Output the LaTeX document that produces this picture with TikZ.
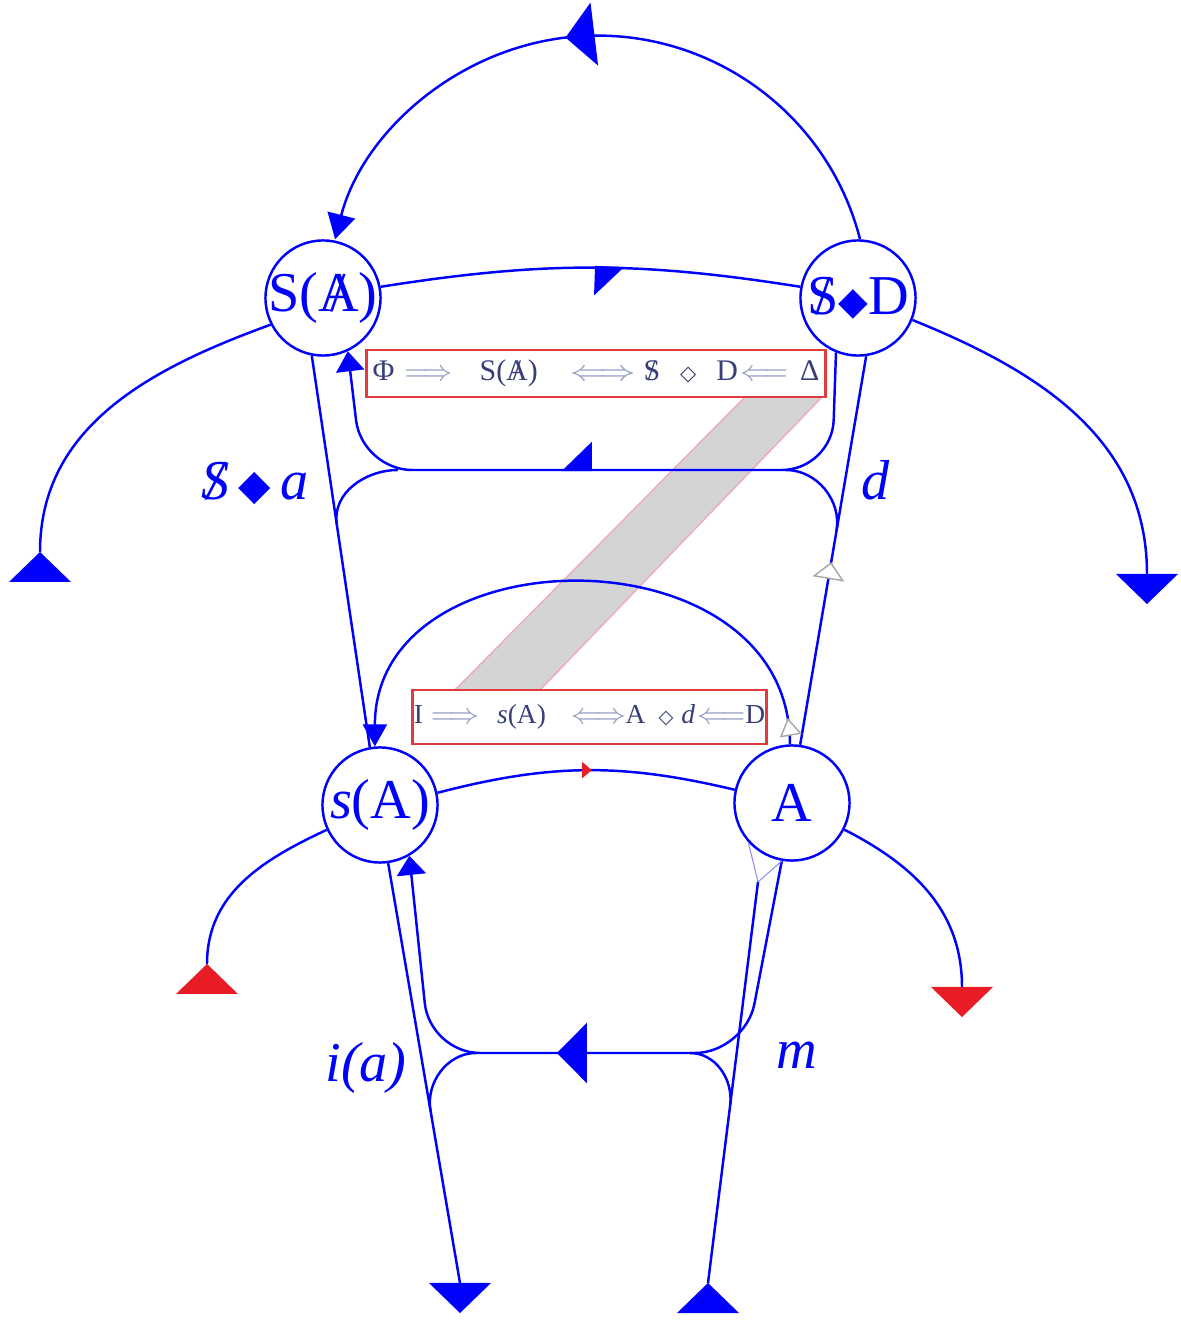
\documentclass[tikz,border=0pt]{standalone}
\usepackage{fontspec}
\setmainfont{Liberation Serif}
\newfontfamily\symfont{DejaVu Sans}
\usetikzlibrary{arrows.meta, calc, decorations.markings}
\definecolor{wireblue}{RGB}{0,0,255}
\definecolor{tipred}{RGB}{232,28,36}
\definecolor{boxred}{RGB}{222,60,64}
\definecolor{boxtext}{RGB}{56,62,120}
\definecolor{boxarr}{RGB}{150,158,198}
\definecolor{bandgray}{RGB}{212,212,212}
\definecolor{bandedge}{RGB}{240,170,180}
\tikzset{
  obj/.style={circle, draw=wireblue, line width=0.7pt, minimum size=11.5mm, inner sep=-1.5pt, text=wireblue, font=\fontsize{16}{18}\selectfont},
  wire/.style={color=wireblue, line width=0.7pt},
  hint/.style={draw=wireblue!45, line width=0.3pt},
  lab/.style={text=wireblue, font=\fontsize{16}{18}\selectfont\itshape, inner sep=0pt},
  frame/.style={draw=boxred, line width=0.8pt, fill=white, text=boxtext, inner sep=0pt},
  band/.style={fill=bandgray, draw=bandedge, line width=0.4pt},
  midarr/.style 2 args={postaction={decorate, decoration={markings, mark=at position #1 with {\arrow{#2}}}}}
}
\newcommand{\strk}[1]{\ooalign{#1\cr\hidewidth/\hidewidth}}
\newcommand{\darr}[1]{{\color{boxarr}$#1$}}
\newcommand{\tipup}[2]{\fill[#2] (#1) -- ++(-31,-30) -- ++(62,0) -- cycle;}
\newcommand{\tipdn}[2]{\fill[#2] (#1) ++(-31,0) -- ++(62,0) -- ++(-31,-30) -- cycle;}

\begin{document}
\begin{tikzpicture}[x=0.01cm, y=0.01cm]
	\useasboundingbox (0,0) rectangle (1181,1320);
	\filldraw[band] (745,923) -- (822,923) -- (540,630) -- (455,630) -- cycle;

	\node[obj] (SA) at (323,1022) {S(\strk{A})};
	\node[obj] (SD) at (858,1022) {\strk{S}{\fontsize{11}{12}\symfont ◆}D};
	\node[obj] (sA) at (380,515) {\textit{s}(A)};
	\node[obj] (A) at (792,517) {A};

	\coordinate (saend) at (40,768);
	\coordinate (sdend) at (1147,746);
	\coordinate (sAend) at (207,356);
	\coordinate (Aend) at (962,333);
	\coordinate (iaend) at (460,37);
	\coordinate (mend) at (708,37);
	\coordinate (mfoot) at (758,438);

	% upper level
	\draw[wire, -{Triangle[length=2.5mm,width=2.8mm]}, midarr={0.545}{Triangle[length=2.9mm,width=6.3mm]}]
		(SD.88) arc[start angle=14.4, end angle=165.6, radius=271];
	\draw[wire, midarr={0.58}{Triangle[right,length=2.8mm,width=5.6mm]}] (SA.11) to[bend left=9] (SD.169);
	\draw[wire, rounded corners=5mm, -{Triangle[length=2mm,width=2.8mm]}, midarr={0.55}{Triangle[right,length=2.9mm,width=5.6mm]}]
		(SD.248) -- (832,850) -- (362,850) -- (SA.295);
	\draw[wire] (SA.259) -- (sA.100);
	\draw[wire, midarr={0.47}{Triangle[length=1.7mm,width=3.2mm,fill=white,color=gray!70,line width=0.4pt]}] (A.82) -- (SD.278);
	\draw[wire] (398,850) to[out=180,in=98] ($(SA.259)!0.43!(sA.100)$);
	\draw[wire] (786,850) to[out=0,in=80] ($(A.82)!0.55!(SD.278)$);

	% lower level
	\draw[wire, -{Triangle[length=2.2mm,width=2.4mm]}, midarr={0.045}{Triangle[length=1.8mm,width=2.2mm,fill=white,color=gray!70,line width=0.4pt]}]
		(A.92) .. controls +(0,216) and +(0,216) .. (sA.95);
	\draw[wire, midarr={0.52}{Triangle[length=1mm,width=1.6mm,color=tipred]}] (sA.12) to[bend left=14] (A.167);
	\draw[wire, rounded corners=5mm, -{Triangle[length=1.9mm,width=2.9mm]}, midarr={0.545}{Triangle[length=3mm,width=6mm]}]
		(A.260) -- (745,267) -- (430,267) -- (sA.300);
	\draw[hint] (A.222) -- (mfoot) -- (A.260);
	\draw[wire] (sA.278) -- (iaend);
	\draw[wire] (mfoot) -- (mend);
	\draw[wire] (476,267) to[out=180,in=100] ($(sA.278)!0.59!(iaend)$);
	\draw[wire] (690,267) to[out=0,in=83] ($(mfoot)!0.556!(mend)$);

	% outer legs
	\draw[wire] (SA.207) to[out=200,in=90] (saend);
	\draw[wire] (SD.338) to[out=-22,in=90] (sdend);
	\draw[wire] (sA.205) to[out=205,in=90] (sAend);
	\draw[wire] (A.333) to[out=-27,in=90] (Aend);
	\tipup{saend}{wireblue}
	\tipdn{sdend}{wireblue}
	\tipup{sAend}{tipred}
	\tipdn{Aend}{tipred}
	\tipdn{iaend}{wireblue}
	\tipup{mend}{wireblue}

	\node[lab] (sdia) at (255,837) {\strk{S}\,{\upshape\fontsize{12}{12}\symfont ◆}\,a};
	\node[lab] (dlab) at (876,840) {d};
	\node[lab] (ialab) at (366,252) {i(a)};
	\node[lab] (mlab) at (797,265) {m};

	\node[frame, minimum width=4.58cm, minimum height=0.47cm, font=\fontsize{8.5}{10}\selectfont] (uform) at (596,946.5)
		{Φ\hspace{0.10cm}\darr{\Longrightarrow}\hspace{0.27cm}S(\strk{A})\hspace{0.32cm}\scalebox{1.2}[1]{\darr{\Longleftrightarrow}}\hspace{0.08cm}\strk{S}\hspace{0.2cm}{\fontsize{6}{6}\symfont ◇}\hspace{0.2cm}D\hspace{0.02cm}\darr{\Longleftarrow}\hspace{0.12cm}Δ};
	\node[frame, minimum width=3.53cm, minimum height=0.54cm, font=\fontsize{7.8}{9}\selectfont] (lform) at (589.5,603)
		{I\hspace{0.08cm}\darr{\Longrightarrow}\hspace{0.18cm}\textit{s}(A)\hspace{0.25cm}\darr{\Longleftrightarrow}A\hspace{0.13cm}{\fontsize{5.5}{6}\symfont ◇}\hspace{0.08cm}\textit{d}\hspace{0.02cm}\darr{\Longleftarrow}D};
\end{tikzpicture}
\end{document}
